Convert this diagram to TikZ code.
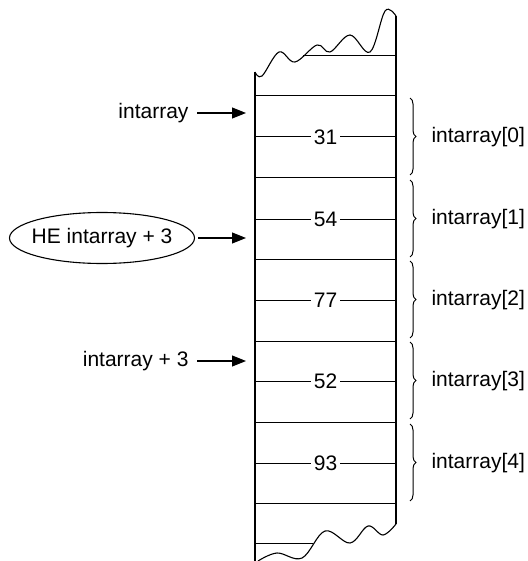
\documentclass[tikz,border=0pt]{standalone}
\usepackage{fontspec}
\setmainfont{Liberation Sans}
\usetikzlibrary{arrows.meta,decorations.pathreplacing,shapes.geometric,positioning}

\begin{document}
\begin{tikzpicture}[x=1pt,y=-1pt,line width=1pt,
  lbl/.style={font=\fontsize{21}{25}\selectfont,inner sep=1pt},
  cellval/.style={lbl,fill=white,inner xsep=2.5pt,inner ysep=1pt},
  ptr/.style={-{Triangle[length=14pt,width=11pt]},line width=1.1pt},
  brc/.style={decorate,decoration={brace,amplitude=6pt},line width=1pt}]
\useasboundingbox (0,0) rectangle (527,561);
% torn column edges
\draw[line width=1.4pt] (255,72) -- (255,561);
\draw[line width=1.4pt] (396,16) -- (396,524);
\draw[line width=1.1pt] plot[smooth,tension=0.6] coordinates {(255,72) (262,76) (279,52) (295,62) (317,45) (330,52) (350,35) (370,52) (385,11) (396,16)};
\draw[line width=1.1pt] plot[smooth,tension=0.6] coordinates {(258,561) (277,553) (302,558) (325,531) (350,543) (368,526) (383,535) (396,524)};
\draw (303,56) -- (396,56);
\draw (255,543) -- (313,543);
% cells
\foreach \y in {96,178,259,341,422,503}
  \draw (255,\y) -- (396,\y);
\foreach \v/\y [count=\i from 0] in {31/137,54/219,77/300,52/381,93/463} {
  \draw (255,\y) -- node[cellval] (v\i) {\v} (396,\y);
  \draw[brc] (410,\y-39) -- (410,\y+38);
  \node[lbl,anchor=west] (e\i) at (430,\y) {intarray[\i]};
}
% pointers
\node[lbl,anchor=east] (p0) at (190,113) {intarray};
\coordinate (t0) at (246,113);
\draw[ptr,shorten <=7pt] (p0) -- (t0);
\node[lbl,ellipse,draw,line width=1.1pt,minimum width=185pt,minimum height=51pt,inner xsep=-8pt] (he) at (102,238) {HE intarray + 3};
\coordinate (t1) at (246,238);
\draw[ptr,shorten <=3pt] (he) -- (t1);
\node[lbl,anchor=east] (p3) at (190,361) {intarray + 3};
\coordinate (t3) at (246,361);
\draw[ptr,shorten <=7pt] (p3) -- (t3);
\end{tikzpicture}
\end{document}
